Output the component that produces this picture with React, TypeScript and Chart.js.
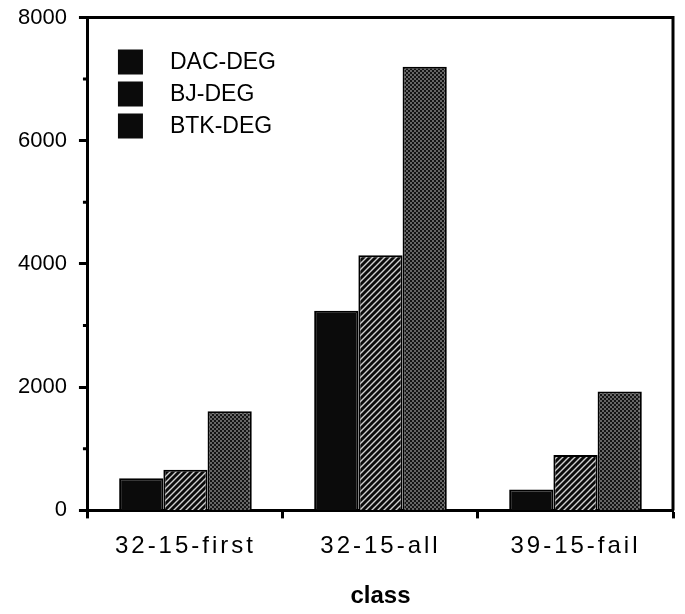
import { useEffect, useRef } from 'react';
import { Chart, registerables } from 'chart.js';

Chart.register(...registerables);

// Run counts per class for the three degree heuristics
const categories = ['32-15-first', '32-15-all', '39-15-fail'];
const seriesLabels = ['DAC-DEG', 'BJ-DEG', 'BTK-DEG'];
const dacDeg = [520, 3240, 340];
const bjDeg = [660, 4140, 900];
const btkDeg = [1610, 7200, 1930];

const yMax = 8000;
const yStep = 2000;
const yMinorTicks = [1000, 3000, 5000, 7000];
const xTitle = 'class';

const FONT = "'Liberation Sans', Arial, Helvetica, sans-serif";

// Solid black fill for DAC-DEG
const solidFill = '#0b0b0b';

// Black tile with light "/" stripes for BJ-DEG
function makeHatch(): CanvasPattern | string {
  const c = document.createElement('canvas');
  const s = 6;
  c.width = s;
  c.height = s;
  const g = c.getContext('2d');
  if (!g) return '#333';
  g.fillStyle = '#0b0b0b';
  g.fillRect(0, 0, s, s);
  g.strokeStyle = '#d0d0d0';
  g.lineWidth = 1.4;
  g.beginPath();
  g.moveTo(-1, s + 1);
  g.lineTo(s + 1, -1);
  g.moveTo(-1, 1);
  g.lineTo(1, -1);
  g.moveTo(s - 1, s + 1);
  g.lineTo(s + 1, s - 1);
  g.stroke();
  return g.createPattern(c, 'repeat') || '#333';
}

// Dark dotted screen for BTK-DEG
function makeStipple(): CanvasPattern | string {
  const c = document.createElement('canvas');
  const s = 4;
  c.width = s;
  c.height = s;
  const g = c.getContext('2d');
  if (!g) return '#444';
  g.fillStyle = '#141414';
  g.fillRect(0, 0, s, s);
  g.fillStyle = '#666666';
  g.fillRect(0, 0, 2, 2);
  g.fillRect(2, 2, 2, 2);
  return g.createPattern(c, 'repeat') || '#444';
}

// Top and right edges of the plot frame, plus the short minor ticks on the value axis
const framePlugin = {
  id: 'frame',
  afterDraw(chart: any) {
    const { ctx, chartArea } = chart;
    const { left, top, right, bottom } = chartArea;
    ctx.save();
    ctx.strokeStyle = '#000';
    ctx.lineWidth = 3;
    ctx.beginPath();
    ctx.moveTo(left, top);
    ctx.lineTo(right, top);
    ctx.lineTo(right, bottom);
    ctx.stroke();
    const y = chart.scales.y;
    ctx.beginPath();
    for (const v of yMinorTicks) {
      const py = y.getPixelForValue(v);
      ctx.moveTo(left - 5, py);
      ctx.lineTo(left, py);
    }
    ctx.stroke();
    ctx.restore();
  },
};

// Letter-spaced category labels on the x axis
const spacedLabelsPlugin = {
  id: 'spacedLabels',
  beforeDraw(chart: any) {
    const sx = chart.scales.x;
    if (!sx || sx.__spaced) return;
    const orig = sx.drawLabels.bind(sx);
    sx.drawLabels = (area: any) => {
      const c = chart.ctx as any;
      c.save();
      c.letterSpacing = '3px';
      orig(area);
      c.restore();
    };
    sx.__spaced = true;
  },
};

// Legend inside the plot area, top-left, with plain black swatches
const insideLegendPlugin = {
  id: 'insideLegend',
  afterDraw(chart: any) {
    const { ctx, chartArea } = chart;
    const x0 = chartArea.left + 30;
    let y0 = chartArea.top + 32;
    const box = 25;
    const gap = 32;
    ctx.save();
    ctx.font = `23px ${FONT}`;
    ctx.textBaseline = 'middle';
    ctx.textAlign = 'left';
    chart.data.datasets.forEach((ds: any) => {
      ctx.fillStyle = '#0b0b0b';
      ctx.fillRect(x0, y0, box, box);
      ctx.fillStyle = '#000';
      ctx.fillText(ds.label, x0 + 52, y0 + box / 2 + 1);
      y0 += gap;
    });
    ctx.restore();
  },
};

export default function App() {
  const ref = useRef<HTMLCanvasElement | null>(null);

  useEffect(() => {
    if (!ref.current) return;
    const fills = [solidFill, makeHatch(), makeStipple()];
    const values = [dacDeg, bjDeg, btkDeg];
    const chart = new Chart(ref.current, {
      type: 'bar',
      data: {
        labels: categories,
        datasets: seriesLabels.map((label, i) => ({
          label,
          data: values[i],
          backgroundColor: fills[i] as any,
          borderColor: '#000',
          borderWidth: 2,
          categoryPercentage: 0.68,
          barPercentage: 1,
        })),
      },
      options: {
        animation: false,
        responsive: true,
        maintainAspectRatio: false,
        layout: { padding: { left: 6, right: 12, top: 4, bottom: 3 } },
        plugins: {
          legend: { display: false },
          tooltip: { enabled: false },
        },
        scales: {
          x: {
            grid: {
              display: true,
              offset: true,
              drawOnChartArea: false,
              tickLength: 8,
              tickWidth: 3,
              tickColor: '#000',
            },
            border: { display: true, color: '#000', width: 3 },
            ticks: {
              color: '#000',
              font: { family: FONT, size: 24 },
              padding: 14,
              maxRotation: 0,
            },
            title: {
              display: true,
              text: xTitle,
              color: '#000',
              font: { family: FONT, size: 24, weight: 'bold' },
              padding: { top: 7, bottom: 0 },
            },
          },
          y: {
            min: 0,
            max: yMax,
            grid: {
              display: true,
              drawOnChartArea: false,
              tickLength: 9,
              tickWidth: 3,
              tickColor: '#000',
            },
            border: { display: true, color: '#000', width: 3 },
            ticks: {
              stepSize: yStep,
              color: '#000',
              font: { family: FONT, size: 22, lineHeight: 0.5 },
              padding: 12,
              callback: (v: any) => String(v),
            },
          },
        },
      },
      plugins: [spacedLabelsPlugin, framePlugin, insideLegendPlugin],
    });
    return () => chart.destroy();
  }, []);

  return (
    <div
      style={{
        position: 'absolute',
        left: 0,
        top: 0,
        width: 685,
        height: 614,
        background: '#fff',
      }}
    >
      <canvas ref={ref} />
    </div>
  );
}
